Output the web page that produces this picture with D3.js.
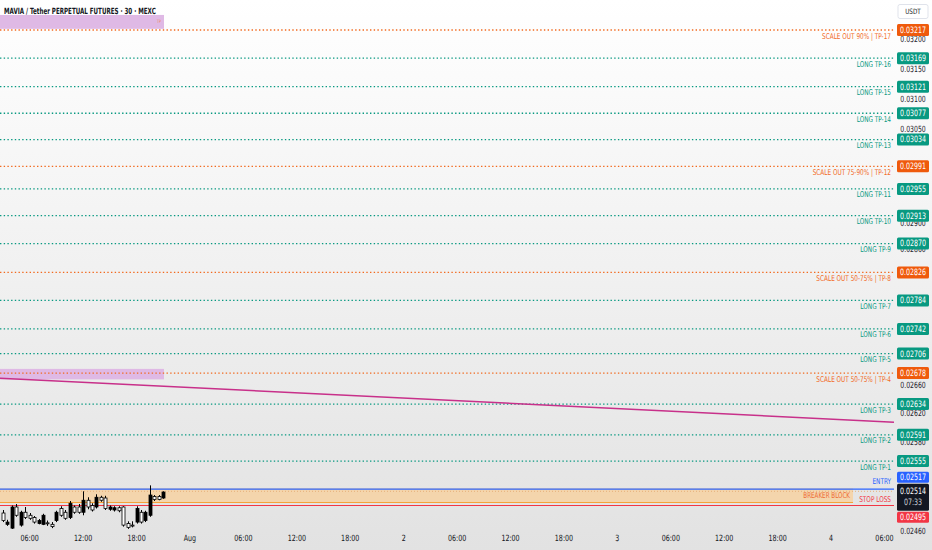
<!DOCTYPE html>
<html><head><meta charset="utf-8">
<script src="https://cdn.jsdelivr.net/npm/d3@7"></script>
<style>
body{margin:0;overflow:hidden;background:#fff}
svg{display:block}
text{font-family:"DejaVu Sans Condensed","Liberation Sans Narrow",sans-serif}
</style>
</head><body>
<svg id="c" width="932" height="550"></svg>
<script>
// ---------------- DATA ----------------
const title = "MAVIA / Tether PERPETUAL FUTURES · 30 · MEXC";
const currency = "USDT";
const candleTimes = ["2024-07-31T03:00","2024-07-31T03:30","2024-07-31T04:00","2024-07-31T04:30","2024-07-31T05:00","2024-07-31T05:30","2024-07-31T06:00","2024-07-31T06:30","2024-07-31T07:00","2024-07-31T07:30","2024-07-31T08:00","2024-07-31T08:30","2024-07-31T09:00","2024-07-31T09:30","2024-07-31T10:00","2024-07-31T10:30","2024-07-31T11:00","2024-07-31T11:30","2024-07-31T12:00","2024-07-31T12:30","2024-07-31T13:00","2024-07-31T13:30","2024-07-31T14:00","2024-07-31T14:30","2024-07-31T15:00","2024-07-31T15:30","2024-07-31T16:00","2024-07-31T16:30","2024-07-31T17:00","2024-07-31T17:30","2024-07-31T18:00","2024-07-31T18:30","2024-07-31T19:00","2024-07-31T19:30","2024-07-31T20:00","2024-07-31T20:30","2024-07-31T21:00"];
const opens  = [0.02485,0.02470,0.02465,0.02493,0.02469,0.02486,0.02482,0.02479,0.02471,0.02470,0.02472,0.02470,0.02475,0.02491,0.02486,0.02479,0.02493,0.02493,0.02486,0.02502,0.02495,0.02493,0.02506,0.02505,0.02490,0.02489,0.02492,0.02493,0.02471,0.02469,0.02473,0.02486,0.02475,0.02482,0.02507,0.02507,0.02505];
const highs  = [0.02489,0.02476,0.02495,0.02497,0.02488,0.02493,0.02485,0.02481,0.02477,0.02484,0.02475,0.02473,0.02488,0.02494,0.02489,0.02501,0.02495,0.02497,0.02514,0.02506,0.02498,0.02510,0.02508,0.02508,0.02495,0.02494,0.02494,0.02494,0.02474,0.02474,0.02494,0.02489,0.02488,0.02522,0.02509,0.02509,0.02514];
const lows   = [0.02473,0.02468,0.02464,0.02480,0.02467,0.02477,0.02476,0.02471,0.02470,0.02469,0.02468,0.02465,0.02473,0.02480,0.02476,0.02477,0.02484,0.02484,0.02482,0.02490,0.02487,0.02491,0.02500,0.02489,0.02488,0.02487,0.02486,0.02467,0.02464,0.02466,0.02471,0.02471,0.02473,0.02480,0.02501,0.02502,0.02504];
const closes = [0.02475,0.02473,0.02493,0.02482,0.02486,0.02479,0.02478,0.02473,0.02475,0.02482,0.02471,0.02467,0.02486,0.02482,0.02478,0.02498,0.02486,0.02486,0.02502,0.02493,0.02489,0.02506,0.02502,0.02491,0.02493,0.02492,0.02488,0.02469,0.02466,0.02469,0.02491,0.02473,0.02486,0.02509,0.02503,0.02503,0.02513];

const tpNames  = ["SCALE OUT 90% | TP-17","LONG TP-16","LONG TP-15","LONG TP-14","LONG TP-13","SCALE OUT 75-90% | TP-12","LONG TP-11","LONG TP-10","LONG TP-9","SCALE OUT 50-75% | TP-8","LONG TP-7","LONG TP-6","LONG TP-5","SCALE OUT 50-75% | TP-4","LONG TP-3","LONG TP-2","LONG TP-1"];
const tpPrices = [0.03217,0.03169,0.03121,0.03077,0.03034,0.02991,0.02955,0.02913,0.02870,0.02826,0.02784,0.02742,0.02706,0.02678,0.02634,0.02591,0.02555];

const entryPrice = 0.02517;
const stopPrice = 0.02495;
const currentPrice = 0.02514;
const countdown = "07:33";
const breakerBlock = {start:"2024-07-30T20:00", end:"2024-08-04T02:28", low:0.02499, high:0.02518, label:"BREAKER BLOCK"};
const purpleBoxes = [
  {start:"2024-07-30T20:00", end:"2024-07-31T21:05", low:0.03219, high:0.03243, label:"TP"},
  {start:"2024-07-30T20:00", end:"2024-07-31T21:05", low:0.02669, high:0.02684, label:""}
];
const trendline = [["2024-07-31T02:40",0.026707],["2024-08-04T07:04",0.026087]];
const yTicks = [0.03200,0.03150,0.03100,0.03050,0.03000,0.02950,0.02900,0.02860,0.02820,0.02780,0.02740,0.02700,0.02660,0.02620,0.02580,0.02540,0.02500,0.02460];
const xStart = "2024-07-31T02:40", xEnd = "2024-08-04T07:04";

// ---------------- CHART ----------------
const W = 932, H = 550, plotR = 894, plotB = 531;
const GREEN = "#089981", ORANGE = "#f26a1f", ORANGE_BOX = "#ef5a0c", BLUE = "#2962ff", RED = "#f23645";
const parse = d3.timeParse("%Y-%m-%dT%H:%M");
const svg = d3.select("#c");
const defs = svg.append("defs");
const grad = defs.append("linearGradient").attr("id","bg").attr("x1",0).attr("y1",0).attr("x2",0).attr("y2",1);
grad.append("stop").attr("offset","0%").attr("stop-color","#ffffff");
grad.append("stop").attr("offset","100%").attr("stop-color","#e2e2e2");
defs.append("clipPath").attr("id","clip").append("rect").attr("width",plotR).attr("height",plotB);
svg.append("rect").attr("width",W).attr("height",H).attr("fill","url(#bg)");

const x = d3.scaleTime().domain([parse(xStart), parse(xEnd)]).range([0, plotR]);
const y = d3.scaleLog().domain([stopPrice, tpPrices[0]]).range([505.5, 30]);

// narrow text helper (condensed look of the reference font)
function ntext(parent, tx, ty, str, o){
  const t = parent.append("text")
    .attr("transform",`translate(${tx},${ty}) scale(${o.sx||0.8},1)`)
    .attr("font-size",o.size).attr("text-anchor",o.anchor||"end").attr("fill",o.fill);
  if(o.weight) t.attr("font-weight",o.weight);
  if(o.mid) t.attr("dominant-baseline","middle");
  return t.text(str);
}

const plot = svg.append("g").attr("clip-path","url(#clip)");

// purple boxes
purpleBoxes.forEach(b=>{
  plot.append("rect").attr("x",x(parse(b.start))).attr("y",y(b.high))
    .attr("width",x(parse(b.end))-x(parse(b.start))).attr("height",y(b.low)-y(b.high))
    .attr("fill","#dfb9e5");
  if(b.label) ntext(plot, x(parse(b.end))-3, (y(b.low)+y(b.high))/2, b.label, {size:4.5, fill:"#f08a5d", mid:true});
});

// breaker block
const bx0 = x(parse(breakerBlock.start)), bx1 = x(parse(breakerBlock.end));
plot.append("rect").attr("x",bx0).attr("y",y(breakerBlock.high)).attr("width",bx1-bx0)
  .attr("height",y(breakerBlock.low)-y(breakerBlock.high)).attr("fill","#f4d5ac");
plot.append("line").attr("x1",bx0).attr("x2",bx1).attr("y1",y(breakerBlock.low)).attr("y2",y(breakerBlock.low))
  .attr("stroke","#f5a23a").attr("stroke-width",1);
ntext(plot, bx1-3, (y(breakerBlock.low)+y(breakerBlock.high))/2+0.5, breakerBlock.label, {size:8, fill:"#ee6a35", mid:true, sx:0.78});

// TP dotted lines
tpPrices.forEach((p,i)=>{
  const c = tpNames[i].startsWith("SCALE") ? ORANGE : GREEN;
  plot.append("line").attr("x1",0).attr("x2",plotR).attr("y1",y(p)).attr("y2",y(p))
    .attr("stroke",c).attr("stroke-width",1.3).attr("stroke-dasharray","1.4,2.3");
});

// trendline
plot.append("path").datum(trendline)
  .attr("d", d3.line().x(d=>x(parse(d[0]))).y(d=>y(d[1])))
  .attr("stroke","#c8308a").attr("stroke-width",1.5).attr("fill","none");

// current price dotted line
plot.append("line").attr("x1",0).attr("x2",plotR).attr("y1",y(currentPrice)).attr("y2",y(currentPrice))
  .attr("stroke","#e6b07a").attr("stroke-width",1).attr("stroke-dasharray","1,2");

// entry & stop
plot.append("line").attr("x1",0).attr("x2",plotR).attr("y1",y(entryPrice)).attr("y2",y(entryPrice))
  .attr("stroke",BLUE).attr("stroke-width",1.2);
plot.append("line").attr("x1",0).attr("x2",plotR).attr("y1",y(stopPrice)).attr("y2",y(stopPrice))
  .attr("stroke",RED).attr("stroke-width",1.2);

// candles
const candles = candleTimes.map((t,i)=>({t:parse(t),o:opens[i],h:highs[i],l:lows[i],c:closes[i]}));
const cg = plot.append("g");
const bw = 3;
candles.forEach(d=>{
  const cx = Math.round(x(d.t))+0.5;
  cg.append("line").attr("x1",cx).attr("x2",cx).attr("y1",y(d.h)).attr("y2",y(d.l)).attr("stroke","#000").attr("stroke-width",1);
  const top = y(Math.max(d.o,d.c)), bot = y(Math.min(d.o,d.c));
  const up = d.c > d.o;
  cg.append("rect").attr("x",cx-bw/2).attr("y",top).attr("width",bw).attr("height",Math.max(1,bot-top))
    .attr("fill", up ? "#000" : "#fff").attr("stroke","#000").attr("stroke-width",0.8);
});

// line labels on chart
const lblX = 891;
tpPrices.forEach((p,i)=>{
  const c = tpNames[i].startsWith("SCALE") ? ORANGE : GREEN;
  ntext(svg, lblX, y(p)+8.5, tpNames[i], {size:8, fill:c, sx:0.8});
});
ntext(svg, lblX, y(entryPrice)-5, "ENTRY", {size:8, fill:BLUE, sx:0.8});
ntext(svg, lblX, y(stopPrice)-3.5, "STOP LOSS", {size:8, fill:RED, sx:0.8});

// title
ntext(svg, 4, 14, title, {size:8.6, fill:"#131722", weight:"bold", anchor:"start", sx:0.72});

// ---------- price axis ----------
const axisCx = 913;

// axis labels with collision resolution
const labels = tpPrices.map((p,i)=>({p, h:13, bg: tpNames[i].startsWith("SCALE") ? ORANGE_BOX : GREEN, lines:[d3.format(".5f")(p)]}));
labels.push({p:entryPrice, h:12, bg:BLUE, lines:[d3.format(".5f")(entryPrice)]});
labels.push({p:currentPrice, h:28, bg:"#131722", lines:[d3.format(".5f")(currentPrice), countdown]});
labels.push({p:stopPrice, h:12, bg:RED, lines:[d3.format(".5f")(stopPrice)]});
labels.forEach(l=>l.cy=y(l.p));
labels.sort((a,b)=>a.cy-b.cy);
let groups = labels.map(l=>({items:[l], top:l.cy-l.h/2, h:l.h}));
let changed = true;
while(changed){
  changed = false;
  for(let i=0;i<groups.length-1;i++){
    const a = groups[i], b = groups[i+1];
    if(a.top + a.h > b.top + 0.01){
      const its = a.items.concat(b.items);
      const hh = d3.sum(its, t=>t.h);
      const m = d3.mean(its, t=>t.cy) + 2;
      groups.splice(i,2,{items:its, top:m-hh/2, h:hh});
      changed = true; break;
    }
  }
}
groups.forEach(gr=>{let t=gr.top; gr.items.forEach(it=>{it.top=t; t+=it.h;});});

// tick labels (those mostly hidden under a price label are not drawn)
const yAxis = svg.append("g");
yTicks.forEach(t=>{
  const cy = y(t);
  const hidden = labels.some(l => Math.min(cy+3.5, l.top+l.h) - Math.max(cy-3.5, l.top) > 4);
  if(hidden) return;
  ntext(yAxis, axisCx, cy, d3.format(".5f")(t), {size:8.6, fill:"#1e222d", anchor:"middle", mid:true, sx:0.8});
});

labels.forEach(l=>{
  svg.append("rect").attr("x",897).attr("y",l.top+0.5).attr("width",32).attr("height",l.h-1)
    .attr("rx",1.5).attr("fill",l.bg);
  if(l.lines.length===1){
    ntext(svg, axisCx, l.top+l.h/2+0.5, l.lines[0], {size:8.8, fill:"#fff", anchor:"middle", mid:true, sx:0.8});
  } else {
    l.lines.forEach((s,k)=>{
      ntext(svg, axisCx, l.top+8.5+k*11, s, {size:8.8, fill: k===0?"#fff":"#d1d4dc", anchor:"middle", mid:true, sx:0.8});
    });
  }
});

// currency box
svg.append("rect").attr("x",898).attr("y",4.5).attr("width",30).attr("height",14).attr("rx",2)
  .attr("fill","#fff").attr("stroke","#e0e3eb");
ntext(svg, 913, 12, currency, {size:7.4, fill:"#131722", anchor:"middle", mid:true, sx:0.85});

// ---------- time axis ----------
const xTicks = d3.timeHour.every(6).range(x.domain()[0], x.domain()[1]);
const fmt = d => d.getHours()===0 ? (d.getDate()===1 ? d3.timeFormat("%b")(d) : String(d.getDate())) : d3.timeFormat("%H:%M")(d);
const xAxis = svg.append("g");
xTicks.forEach(t=>{
  ntext(xAxis, x(t), 541, fmt(t), {size:8.6, fill:"#131722", anchor:"middle", sx:0.82});
});
</script>
</body></html>
